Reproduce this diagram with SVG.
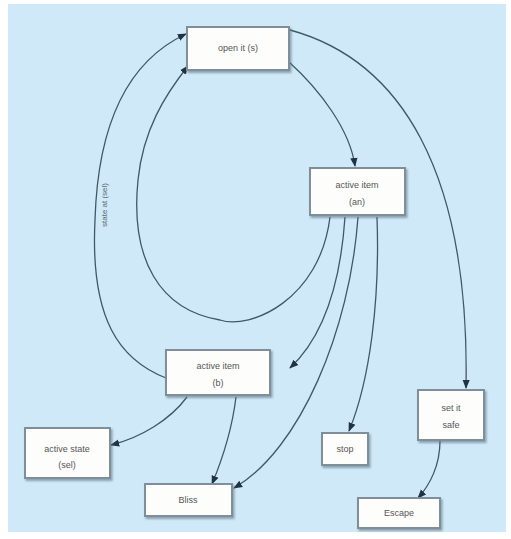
<svg xmlns="http://www.w3.org/2000/svg" width="511" height="539" viewBox="0 0 511 539">
<defs>
<marker id="ah" viewBox="0 0 10 10" refX="9" refY="5" markerWidth="7" markerHeight="7" orient="auto-start-reverse">
<path d="M0,1 L10,5 L0,9 z" fill="#1f3442"/>
</marker>
<filter id="sh" x="-10%" y="-10%" width="130%" height="140%">
<feDropShadow dx="1.5" dy="2" stdDeviation="1.2" flood-color="#5a6f7c" flood-opacity="0.6"/>
</filter>
</defs>
<style>
.n rect{fill:#fdfdfb;stroke:#7f8e98;stroke-width:2;filter:url(#sh)}
.n text{font-family:"Liberation Sans",Arial,sans-serif;font-size:9px;fill:#555;text-anchor:middle}
.c path{fill:none;stroke:#3f5868;stroke-width:1.3;marker-end:url(#ah)}
.lbl{font-family:"Liberation Sans",Arial,sans-serif;font-size:8px;fill:#5a6a75}
</style>
<rect width="511" height="539" fill="#ffffff"/>
<rect x="8" y="4" width="498" height="528" fill="#cfe9f8"/>
<g class="c" id="connectors">
<path d="M290,30 C400,60 470,170 466,388"/>
<path d="M289,62 C320,90 350,130 355,166"/>
<path d="M330,217 C320,300 250,330 220,320 C160,310 130,260 138,180 C143,130 165,95 188,66"/>
<path d="M166,378 C120,360 90,320 95,220 C98,120 130,60 186,34"/>
<path d="M345,217 C340,290 320,340 290,368"/>
<path d="M358,217 C350,330 300,450 234,488"/>
<path d="M377,217 C380,300 370,380 349,431"/>
<path d="M187,397 C170,420 140,438 111,445"/>
<path d="M236,397 C232,430 222,460 212,484"/>
<path d="M440,441 C440,465 430,485 418,498"/>
<text class="lbl" transform="translate(107,205) rotate(-90)" text-anchor="middle">state at (sel)</text>
</g>
<g class="n" id="node1"><rect x="187" y="27" width="102" height="43"/><text x="238" y="51">open it (s)</text></g>
<g class="n" id="node2"><rect x="310" y="168" width="95" height="47"/><text x="357" y="188">active item</text><text x="357" y="205">(an)</text></g>
<g class="n" id="node3"><rect x="166" y="350" width="104" height="45"/><text x="218" y="369">active item</text><text x="218" y="386">(b)</text></g>
<g class="n" id="node4"><rect x="25" y="428" width="85" height="50"/><text x="67" y="452">active state</text><text x="67" y="468">(sel)</text></g>
<g class="n" id="node5"><rect x="145" y="484" width="87" height="32"/><text x="188" y="503">Bliss</text></g>
<g class="n" id="node6"><rect x="322" y="433" width="46" height="32"/><text x="345" y="452">stop</text></g>
<g class="n" id="node7"><rect x="418" y="390" width="66" height="50"/><text x="451" y="411">set it</text><text x="451" y="428">safe</text></g>
<g class="n" id="node8"><rect x="358" y="498" width="82" height="30"/><text x="399" y="516">Escape</text></g>
</svg>
